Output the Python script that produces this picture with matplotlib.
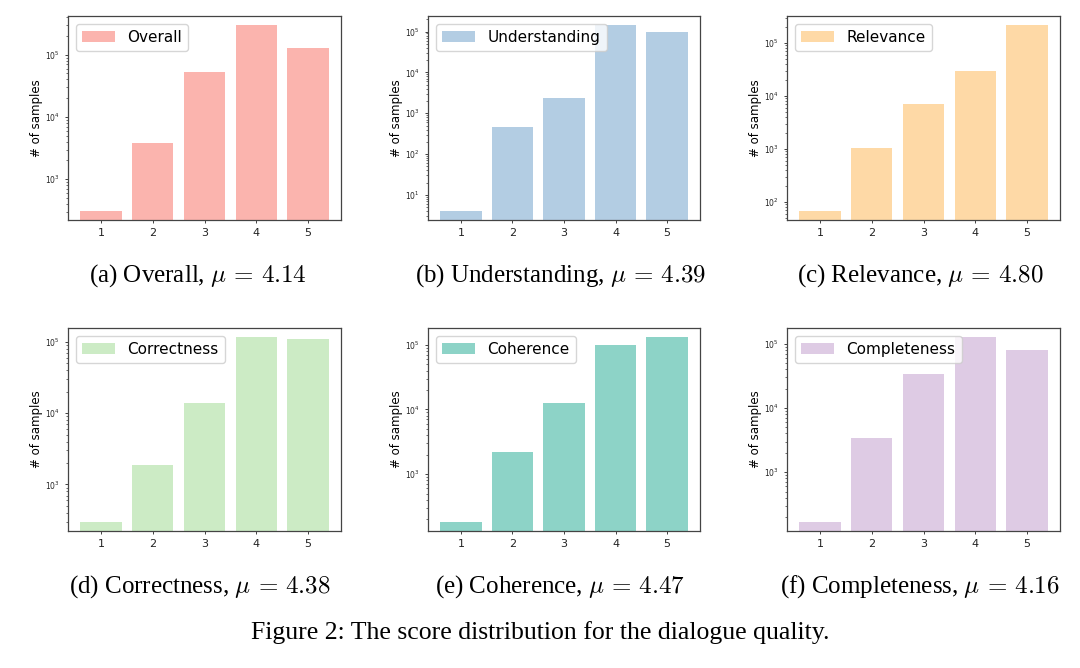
import matplotlib.pyplot as plt

# Score distribution data (log scale counts)
scores = [1, 2, 3, 4, 5]
overall = [312, 3750, 51800, 297000, 126000]
understanding = [4.1, 460, 2430, 143000, 97000]
relevance = [68, 1050, 7160, 29600, 216000]
correctness = [300, 1870, 13900, 116000, 109000]
coherence = [183, 2190, 12800, 97600, 131000]
completeness = [169, 3350, 33900, 126000, 80700]

names = ['Overall', 'Understanding', 'Relevance', 'Correctness', 'Coherence', 'Completeness']
means = ['4.14', '4.39', '4.80', '4.38', '4.47', '4.16']
letters = ['a', 'b', 'c', 'd', 'e', 'f']
colors = ['#fbb4ae', '#b3cde3', '#fed9a6', '#ccebc5', '#8dd3c7', '#decbe4']

plt.rcParams['mathtext.fontset'] = 'cm'

W, H = 1080, 668
fig = plt.figure(figsize=(W / 100, H / 100), dpi=100)

# Axes boxes in pixels: left, top, right, bottom
boxes = [
    (68, 16, 341, 220), (428, 16, 700, 220), (787, 16, 1060, 220),
    (68, 328, 341, 531), (428, 328, 700, 531), (787, 328, 1060, 531),
]
caption_x = [198, 560, 920, 200, 560, 920]
caption_y = [276, 276, 276, 587, 587, 587]

data = [overall, understanding, relevance, correctness, coherence, completeness]

for i, (l, t, r, b) in enumerate(boxes):
    ax = fig.add_axes([l / W, 1 - b / H, (r - l) / W, (b - t) / H])
    ax.bar(scores, data[i], color=colors[i], label=names[i])
    ax.set_yscale('log')
    ax.set_xticks(scores)
    ax.tick_params(axis='x', labelsize=8, length=2.5, width=0.6, colors='#222222')
    ax.tick_params(axis='y', which='major', labelsize=5.5, length=2.5, width=0.6, colors='#222222')
    ax.tick_params(axis='y', which='minor', length=1.5, width=0.4)
    ax.set_ylabel('# of samples', fontsize=8.5, labelpad=1)
    for s in ax.spines.values():
        s.set_color('#444444')
        s.set_linewidth(0.9)
    ax.legend(loc='upper left', fontsize=11, handlelength=2.2, borderpad=0.4)

    fig.text(caption_x[i] / W, 1 - caption_y[i] / H,
             '(%s) %s, $\\mu\\,=\\,%s$' % (letters[i], names[i], means[i]),
             ha='center', va='center', fontsize=18, family='Liberation Serif')

fig.text(540 / W, 1 - 633 / H, 'Figure 2: The score distribution for the dialogue quality.',
         ha='center', va='center', fontsize=18.5, family='Liberation Serif')

plt.savefig('out.png', dpi=100)
